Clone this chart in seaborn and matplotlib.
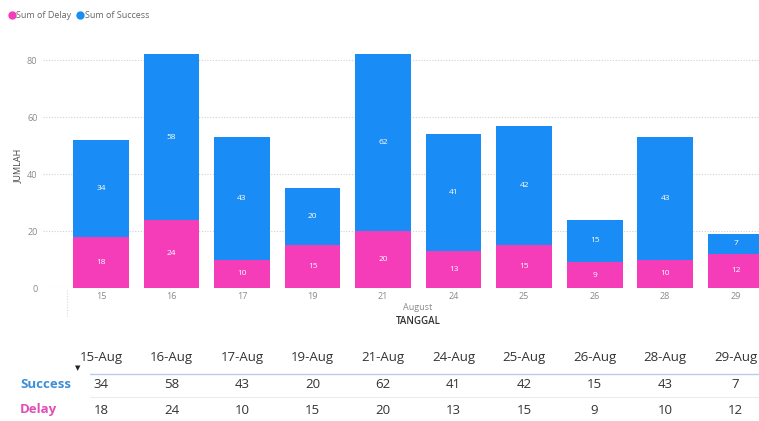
import matplotlib
matplotlib.use("Agg")
import matplotlib.pyplot as plt
import matplotlib.transforms as mtransforms
from matplotlib.lines import Line2D
import seaborn as sns
import pandas as pd

days = ["15", "16", "17", "19", "21", "24", "25", "26", "28", "29"]
date_labels = ["15-Aug", "16-Aug", "17-Aug", "19-Aug", "21-Aug",
               "24-Aug", "25-Aug", "26-Aug", "28-Aug", "29-Aug"]
success = [34, 58, 43, 20, 62, 41, 42, 15, 43, 7]
delay = [18, 24, 10, 15, 20, 13, 15, 9, 10, 12]

PINK = "#F53DB9"
BLUE = "#1A8CF5"
GREY = "#8a8a8a"

sns.set_theme(style="white")
plt.rcParams["font.family"] = ["Open Sans", "DejaVu Sans"]

df = pd.DataFrame({"TANGGAL": days, "Delay": delay, "Success": success})
df["Total"] = df["Delay"] + df["Success"]

fig = plt.figure(figsize=(7.59, 4.21), dpi=100)
ax = fig.add_axes([43 / 759, (421 - 288) / 421, 1 - 43 / 759, 245 / 421])

# stacked bars: total (blue) behind, delay (pink) over the bottom part
sns.barplot(data=df, x="TANGGAL", y="Total", color=BLUE, width=0.79,
            saturation=1, linewidth=0, ax=ax, zorder=3)
sns.barplot(data=df, x="TANGGAL", y="Delay", color=PINK, width=0.79,
            saturation=1, linewidth=0, ax=ax, zorder=3)

for i, (d, s) in enumerate(zip(delay, success)):
    ax.text(i, d / 2, str(d), ha="center", va="center", color="white",
            fontsize=6, zorder=5)
    ax.text(i, d + s / 2, str(s), ha="center", va="center", color="white",
            fontsize=6, zorder=5)

ax.set_xlim(-0.823, 9.33)
ax.set_ylim(0, 86)
ax.set_yticks([0, 20, 40, 60, 80])
ax.yaxis.grid(True, color="#d0d0d0", linestyle=(0, (1, 1.5)), linewidth=0.8,
              zorder=0)
for sp in ax.spines.values():
    sp.set_visible(False)
ax.tick_params(axis="both", length=0, labelsize=6.5, colors=GREY, pad=3)
ax.tick_params(axis="y", pad=4)
ax.set_xlabel("")
ax.set_ylabel("JUMLAH", fontsize=6.5, color="#444444", labelpad=3)

# x-axis hierarchy captions
fig.text(418 / 759, 1 - 307 / 421, "August", ha="center", va="center",
         fontsize=6.5, color=GREY)
fig.text(418 / 759, 1 - 321 / 421, "TANGGAL", ha="center", va="center",
         fontsize=7, color="#333333", fontweight="semibold")
fig.add_artist(Line2D([67 / 759, 67 / 759], [1 - 290 / 421, 1 - 316 / 421],
                      transform=fig.transFigure, color="#d8d8d8",
                      linestyle=(0, (1, 1.5)), linewidth=0.8))

# legend
handles = [Line2D([], [], marker="o", linestyle="", color=PINK, markersize=5),
           Line2D([], [], marker="o", linestyle="", color=BLUE, markersize=5)]
fig.legend(handles, ["Sum of Delay", "Sum of Success"], loc="center left",
           bbox_to_anchor=(7 / 759, 1 - 16 / 421), ncol=2, frameon=False,
           fontsize=6.5, labelcolor="#666666", handletextpad=0.0,
           columnspacing=0.5, borderaxespad=0.0, borderpad=0.0,
           handlelength=1.0)

# table of values below the chart
trans = mtransforms.blended_transform_factory(ax.transData, fig.transFigure)
for i, lab in enumerate(date_labels):
    ax.text(i, 1 - 357 / 421, lab, transform=trans, ha="center", va="center",
            fontsize=9.5, color="#333333", clip_on=False)
    ax.text(i, 1 - 385 / 421, str(success[i]), transform=trans, ha="center",
            va="center", fontsize=9.5, color="#333333", clip_on=False)
    ax.text(i, 1 - 410 / 421, str(delay[i]), transform=trans, ha="center",
            va="center", fontsize=9.5, color="#333333", clip_on=False)

fig.text(20 / 759, 1 - 384 / 421, "Success", ha="left", va="center",
         fontsize=9.5, fontweight="bold", color="#3a8fd6")
fig.text(20 / 759, 1 - 410 / 421, "Delay", ha="left", va="center",
         fontsize=9.5, fontweight="bold", color="#e04fb8")
fig.add_artist(Line2D([90 / 759, 1.0], [1 - 374 / 421, 1 - 374 / 421],
                      transform=fig.transFigure, color="#b9cfe6",
                      linewidth=1.0))
fig.add_artist(Line2D([90 / 759, 1.0], [1 - 397 / 421, 1 - 397 / 421],
                      transform=fig.transFigure, color="#ececec",
                      linewidth=0.8))
fig.text(78 / 759, 1 - 368 / 421, "\u25BC", ha="center", va="center",
         fontsize=5, color="#222222", family="DejaVu Sans")

fig.savefig("out.png", dpi=100)
